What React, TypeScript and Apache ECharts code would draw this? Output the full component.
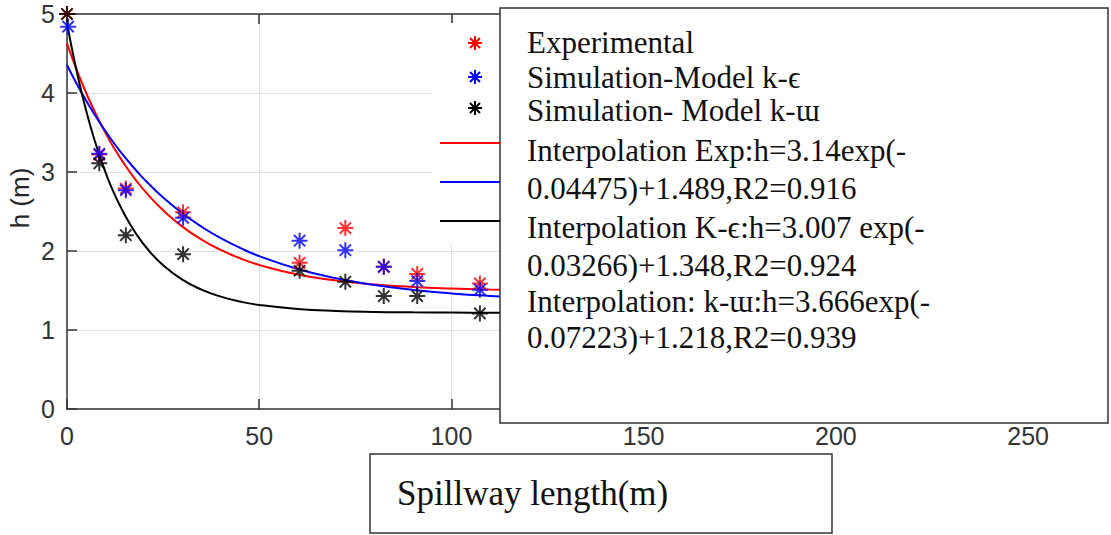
import React, { useEffect, useRef } from "react";
import * as echarts from "echarts";

// Measured points (Spillway length in m, h in m)
const expX = [0, 8.4, 15.3, 30.2, 60.5, 72.4, 82.4, 91.1, 107.4];
const expH = [5.0, 3.22, 2.79, 2.49, 1.85, 2.29, 1.8, 1.71, 1.59];
const keX = [0.3, 8.4, 15.3, 30.2, 60.5, 72.4, 82.4, 91.1, 107.4];
const keH = [4.84, 3.23, 2.77, 2.42, 2.13, 2.01, 1.8, 1.62, 1.51];
const kwX = [0, 8.4, 15.3, 30.2, 60.5, 72.4, 82.4, 91.1, 107.4];
const kwH = [5.0, 3.11, 2.2, 1.96, 1.75, 1.61, 1.43, 1.43, 1.21];

// Fitted curves read at these lengths
const fitX = [0, 2, 4, 6, 8, 10, 12, 15, 18, 21, 25, 30, 35, 40, 45, 50, 60, 70, 80, 90, 100, 110, 120];
const fitExp = [4.629, 4.36, 4.114, 3.89, 3.684, 3.496, 3.324, 3.094, 2.892, 2.716, 2.515, 2.309, 2.145, 2.013, 1.908, 1.824, 1.703, 1.626, 1.577, 1.545, 1.525, 1.512, 1.504];
const fitKe = [4.355, 4.165, 3.987, 3.82, 3.664, 3.517, 3.38, 3.19, 3.019, 2.863, 2.677, 2.477, 2.307, 2.162, 2.04, 1.935, 1.772, 1.654, 1.569, 1.507, 1.463, 1.431, 1.408];
const fitKw = [4.884, 4.391, 3.964, 3.595, 3.275, 2.998, 2.759, 2.459, 2.217, 2.022, 1.82, 1.638, 1.511, 1.422, 1.36, 1.317, 1.266, 1.241, 1.229, 1.224, 1.221, 1.219, 1.218];

const legendLines = [
  "Experimental",
  "Simulation-Model k-\u03f5",
  "Simulation- Model k-\u026f",
  "Interpolation Exp:h=3.14exp(-",
  "0.04475)+1.489,R2=0.916",
  "Interpolation K-\u03f5:h=3.007 exp(-",
  "0.03266)+1.348,R2=0.924",
  "Interpolation: k-\u026f:h=3.666exp(-",
  "0.07223)+1.218,R2=0.939",
];
const legendCenters = [42, 77, 110, 150, 188, 227, 265, 301, 337];

const xTicks = [0, 50, 100, 150, 200, 250];
const xAxisTitle = "Spillway length(m)";
const yAxisTitle = "h (m)";

const RED = "#ff0000";
const BLUE = "#0000ff";
const BLACK = "#000000";
const STAR =
  "path://M0,-10L0,10M-10,0L10,0M-7.07,-7.07L7.07,7.07M-7.07,7.07L7.07,-7.07";
const STAR_D = "M0,-7L0,7M-7,0L7,0M-5,-5L5,5M-5,5L5,-5";

let registered = false;

const pair = (xs: number[], ys: number[]) => xs.map((x, i) => [x, ys[i]]);

export default function App() {
  const ref = useRef<HTMLDivElement>(null);
  useEffect(() => {
    if (!ref.current) return;
    if (!registered) {
      echarts.graphic.registerShape("asterisk", echarts.graphic.extendPath(STAR_D, {}));
      registered = true;
    }
    const chart = echarts.init(ref.current, null, { renderer: "svg" });
    const axisColor = "#333333";
    const gridColor = "#e2e2e2";
    const scatter = (name: string, xs: number[], ys: number[], color: string) => ({
      type: "scatter",
      name,
      data: pair(xs, ys),
      symbol: STAR,
      symbolSize: 16,
      symbolKeepAspect: true,
      itemStyle: { color: "none", borderColor: color, borderWidth: 2 },
      z: 3,
    });
    const fit = (name: string, ys: number[], color: string) => ({
      type: "line",
      name,
      data: pair(fitX, ys),
      smooth: true,
      showSymbol: false,
      lineStyle: { color, width: 2 },
      z: 2,
    });
    const serif = "'Liberation Serif', 'Times New Roman', serif";
    const sans = "'Liberation Sans', Arial, sans-serif";
    const graphics: any[] = [
      // patch left of legend box (old legend background)
      { type: "rect", z: 50, shape: { x: 432, y: 23, width: 68, height: 220 }, style: { fill: "#ffffff" } },
      // legend box
      {
        type: "rect",
        z: 50,
        shape: { x: 500, y: 8, width: 608, height: 415 },
        style: { fill: "#ffffff", stroke: axisColor, lineWidth: 1.5 },
      },
      { type: "asterisk", z: 60, x: 475, y: 43, style: { stroke: RED, fill: "none", lineWidth: 2 } },
      { type: "asterisk", z: 60, x: 475, y: 77, style: { stroke: BLUE, fill: "none", lineWidth: 2 } },
      { type: "asterisk", z: 60, x: 475, y: 108, style: { stroke: BLACK, fill: "none", lineWidth: 2 } },
      { type: "line", z: 60, shape: { x1: 440, y1: 143, x2: 500, y2: 143 }, style: { stroke: RED, lineWidth: 2 } },
      { type: "line", z: 60, shape: { x1: 440, y1: 182, x2: 500, y2: 182 }, style: { stroke: BLUE, lineWidth: 2 } },
      { type: "line", z: 60, shape: { x1: 440, y1: 221, x2: 500, y2: 221 }, style: { stroke: BLACK, lineWidth: 2 } },
      ...legendLines.map((t, i) => ({
        type: "text",
        z: 60,
        x: 527,
        y: legendCenters[i],
        style: {
          text: t,
          font: `31px ${serif}`,
          fill: "#111111",
          align: "left",
          verticalAlign: "middle",
        },
      })),
      // x-axis title box
      {
        type: "rect",
        z: 50,
        shape: { x: 370, y: 454, width: 462, height: 79 },
        style: { fill: "#ffffff", stroke: axisColor, lineWidth: 1.5 },
      },
      {
        type: "text",
        z: 60,
        x: 397,
        y: 493,
        style: { text: xAxisTitle, font: `35px ${serif}`, fill: "#111111", align: "left", verticalAlign: "middle" },
      },
      {
        type: "text",
        z: 60,
        x: 20,
        y: 198,
        rotation: Math.PI / 2,
        style: {
          text: yAxisTitle,
          font: `26px ${sans}`,
          fill: "#262626",
          align: "center",
          verticalAlign: "middle",
        },
      },
    ];
    chart.setOption({
      animation: false,
      backgroundColor: "#ffffff",
      grid: { left: 67, top: 14, width: 1038, height: 395, containLabel: false },
      xAxis: [
        {
          type: "value",
          min: 0,
          max: 270,
          interval: 50,
          axisLine: { show: true, lineStyle: { color: axisColor, width: 1.5 } },
          axisTick: { show: true, inside: true, length: 10, lineStyle: { color: axisColor, width: 1.5 } },
          axisLabel: {
            margin: 14,
            fontSize: 25,
            fontFamily: sans,
            color: "#333333",
            formatter: (v: number) => (xTicks.indexOf(v) >= 0 ? String(v) : ""),
          },
          splitLine: { show: true, lineStyle: { color: gridColor, width: 1 } },
        },
        {
          type: "value",
          position: "top",
          min: 0,
          max: 270,
          interval: 50,
          axisLine: { show: true, lineStyle: { color: axisColor, width: 1.5 } },
          axisTick: { show: true, inside: true, length: 10, lineStyle: { color: axisColor, width: 1.5 } },
          axisLabel: { show: false },
          splitLine: { show: false },
        },
      ],
      yAxis: {
        type: "value",
        min: 0,
        max: 5,
        interval: 1,
        axisLine: { show: true, lineStyle: { color: axisColor, width: 1.5 } },
        axisTick: { show: true, inside: true, length: 10, lineStyle: { color: axisColor, width: 1.5 } },
        axisLabel: {
          margin: 12,
          fontSize: 25,
          fontFamily: sans,
          color: "#333333",
        },
        splitLine: { show: true, lineStyle: { color: gridColor, width: 1 } },
      },
      series: [
        scatter("Experimental", expX, expH, RED),
        scatter("Simulation-Model k-\u03f5", keX, keH, BLUE),
        scatter("Simulation- Model k-\u026f", kwX, kwH, BLACK),
        fit("Interpolation Exp", fitExp, RED),
        fit("Interpolation K-\u03f5", fitKe, BLUE),
        fit("Interpolation k-\u026f", fitKw, BLACK),
      ],
      graphic: graphics,
    });
    return () => chart.dispose();
  }, []);
  return (
    <div
      ref={ref}
      style={{ position: "fixed", left: 0, top: 0, width: 1111, height: 535, background: "#ffffff" }}
    />
  );
}
